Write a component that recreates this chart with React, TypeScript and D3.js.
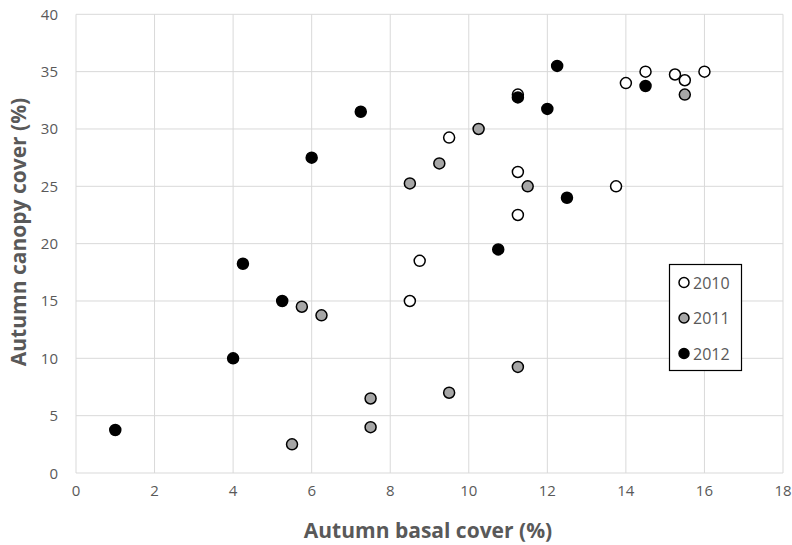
import React, { useEffect, useRef } from 'react';
import * as d3 from 'd3';

// 2010 series
const x2010 = [8.5, 8.75, 9.5, 11.25, 11.25, 11.25, 13.75, 14, 14.5, 15.25, 15.5, 16];
const y2010 = [15, 18.5, 29.25, 33, 26.25, 22.5, 25, 34, 35, 34.75, 34.25, 35];
// 2011 series
const x2011 = [5.5, 5.75, 6.25, 7.5, 7.5, 8.5, 9.25, 9.5, 10.25, 11.25, 11.5, 15.5];
const y2011 = [2.5, 14.5, 13.75, 6.5, 4, 25.25, 27, 7, 30, 9.25, 25, 33];
// 2012 series
const x2012 = [1, 4, 4.25, 5.25, 6, 7.25, 10.75, 11.25, 12, 12.25, 12.5, 14.5];
const y2012 = [3.75, 10, 18.25, 15, 27.5, 31.5, 19.5, 32.75, 31.75, 35.5, 24, 33.75];

const seriesNames = ['2010', '2011', '2012'];
const seriesFill = ['#ffffff', '#a6a6a6', '#000000'];
const xTicks = [0, 2, 4, 6, 8, 10, 12, 14, 16, 18];
const yTicks = [0, 5, 10, 15, 20, 25, 30, 35, 40];

const App = () => {
  const ref = useRef<SVGSVGElement>(null);

  useEffect(() => {
    const svg = d3.select(ref.current);
    svg.selectAll('*').remove();

    const width = 792;
    const height = 545;
    const font = '"Open Sans", sans-serif';

    const x = d3.scaleLinear().domain([0, 18]).range([76, 783]);
    const y = d3.scaleLinear().domain([0, 40]).range([473, 14.3]);

    svg.attr('width', width).attr('height', height);
    svg.append('rect').attr('width', width).attr('height', height).attr('fill', '#fff');

    // grid
    const grid = svg.append('g');
    grid
      .selectAll('.vx')
      .data(xTicks)
      .enter()
      .append('line')
      .attr('x1', d => x(d))
      .attr('x2', d => x(d))
      .attr('y1', y(0))
      .attr('y2', y(40))
      .attr('stroke', '#d9d9d9')
      .attr('stroke-width', 1);
    grid
      .selectAll('.hy')
      .data(yTicks)
      .enter()
      .append('line')
      .attr('x1', x(0))
      .attr('x2', x(18))
      .attr('y1', d => y(d))
      .attr('y2', d => y(d))
      .attr('stroke', '#d9d9d9')
      .attr('stroke-width', 1);

    // tick labels
    svg
      .selectAll('.xt')
      .data(xTicks)
      .enter()
      .append('text')
      .attr('x', d => x(d))
      .attr('y', 496)
      .attr('text-anchor', 'middle')
      .attr('font-family', font)
      .attr('font-size', 15)
      .attr('fill', '#595959')
      .text(d => d);
    svg
      .selectAll('.yt')
      .data(yTicks)
      .enter()
      .append('text')
      .attr('x', 58)
      .attr('y', d => y(d) + 5.5)
      .attr('text-anchor', 'end')
      .attr('font-family', font)
      .attr('font-size', 15)
      .attr('fill', '#595959')
      .text(d => d);

    // axis titles
    svg
      .append('text')
      .attr('x', 428)
      .attr('y', 538)
      .attr('text-anchor', 'middle')
      .attr('font-family', font)
      .attr('font-weight', 'bold')
      .attr('font-size', 21)
      .attr('fill', '#595959')
      .text('Autumn basal cover (%)');
    svg
      .append('text')
      .attr('transform', 'translate(26,232) rotate(-90)')
      .attr('text-anchor', 'middle')
      .attr('font-family', font)
      .attr('font-weight', 'bold')
      .attr('font-size', 21)
      .attr('fill', '#595959')
      .text('Autumn canopy cover (%)');

    // points
    const series = [
      { xs: x2010, ys: y2010 },
      { xs: x2011, ys: y2011 },
      { xs: x2012, ys: y2012 },
    ];
    series.forEach((s, i) => {
      svg
        .append('g')
        .selectAll('circle')
        .data(s.xs.map((v, j) => [v, s.ys[j]]))
        .enter()
        .append('circle')
        .attr('cx', d => x(d[0]))
        .attr('cy', d => y(d[1]))
        .attr('r', 5.5)
        .attr('fill', seriesFill[i])
        .attr('stroke', '#000')
        .attr('stroke-width', 1.5);
    });

    // legend
    const lg = svg.append('g');
    lg.append('rect')
      .attr('x', 669.5)
      .attr('y', 264.5)
      .attr('width', 72)
      .attr('height', 106)
      .attr('fill', '#fff')
      .attr('stroke', '#000')
      .attr('stroke-width', 1.2);
    seriesNames.forEach((name, i) => {
      const cy = 282.5 + i * 35.5;
      lg.append('circle')
        .attr('cx', 684)
        .attr('cy', cy)
        .attr('r', 5)
        .attr('fill', seriesFill[i])
        .attr('stroke', '#000')
        .attr('stroke-width', 1.5);
      lg.append('text')
        .attr('x', 693)
        .attr('y', cy + 6)
        .attr('font-family', font)
        .attr('font-size', 16)
        .attr('fill', '#595959')
        .text(name);
    });
  }, []);

  return <svg ref={ref} style={{ display: 'block', position: 'absolute', left: 0, top: 0 }}></svg>;
};

export default App;
